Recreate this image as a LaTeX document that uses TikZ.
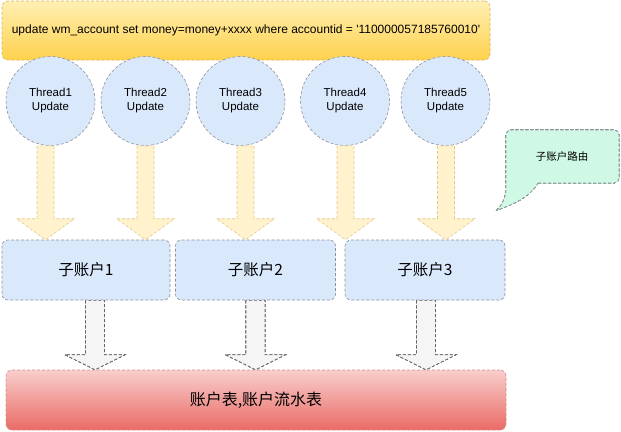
\documentclass[tikz,border=0pt]{standalone}
\usepackage{fontspec}
\setmainfont{Liberation Sans}
\newfontfamily\cjk{Noto Sans CJK SC}
\usetikzlibrary{calc}
\definecolor{sqlTop}{HTML}{FFEFB3}
\definecolor{sqlBot}{HTML}{FFD24D}
\definecolor{sqlLine}{HTML}{D6B656}
\definecolor{blueFill}{HTML}{DAE8FC}
\definecolor{boxLine}{HTML}{8C9099}
\definecolor{yelFill}{HTML}{FFF2CC}
\definecolor{yelLine}{HTML}{E0C98A}
\definecolor{greyFill}{HTML}{F5F5F5}
\definecolor{greyLine}{HTML}{666666}
\definecolor{dbTop}{HTML}{F8CECC}
\definecolor{dbBot}{HTML}{EA6B66}
\definecolor{dbLine}{HTML}{D98C89}
\definecolor{noteFill}{HTML}{CFF9E5}
\tikzset{
  dashln/.style={line width=0.6pt,dash pattern=on 3pt off 2pt},
  sqlbox/.style={dashln,draw=sqlLine,top color=sqlTop,bottom color=sqlBot,rounded corners=6pt,
    minimum width=488pt,minimum height=59pt,font=\fontsize{12}{14}\selectfont},
  thread/.style={dashln,circle,draw=boxLine,fill=blueFill,minimum size=89pt,inner sep=0pt,
    align=center,font=\fontsize{11.5}{14}\selectfont},
  subacc/.style={dashln,draw=boxLine,fill=blueFill,rounded corners=6pt,minimum height=60pt,
    font=\cjk\fontsize{15.5}{18}\selectfont},
  dbbox/.style={dashln,draw=dbLine,top color=dbTop,bottom color=dbBot,rounded corners=6pt,
    minimum width=500pt,minimum height=60pt,font=\cjk\fontsize{16}{18}\selectfont},
  yarrow/.style={dashln,draw=yelLine,fill=yelFill},
  garrow/.style={dashln,draw=greyLine,fill=greyFill},
  note/.style={dashln,draw=boxLine,fill=noteFill}
}
\newcommand{\fatarrow}[6][]{%
  \draw[#1] let \p1=(#2), \p2=(#3) in
    (\x1-#4,\y1) -- (\x1-#4,\y2+#6) -- (\x1-#5,\y2+#6) -- (\x1,\y2)
    -- (\x1+#5,\y2+#6) -- (\x1+#4,\y2+#6) -- (\x1+#4,\y1) -- cycle;}
\begin{document}
\begin{tikzpicture}[x=1pt,y=-1pt]
  \useasboundingbox (0,0) rectangle (621,431);
  \node[sqlbox] (sql) at (246,30.5) {update wm\_account set money=money+xxxx where accountid = \textquotesingle110000057185760010\textquotesingle};
  \foreach \i/\x in {1/50.5,2/145.5,3/240.5,4/345,5/445.5}
    \node[thread] (t\i) at (\x,101) {Thread\i\\Update};
  \node[subacc,minimum width=168pt] (s1) at (86,270) {子账户1};
  \node[subacc,minimum width=160pt] (s2) at (255.5,270) {子账户2};
  \node[subacc,minimum width=160pt] (s3) at (425,270) {子账户3};
  \node[dbbox] (db) at (256,400) {账户表,账户流水表};
  \foreach \i/\s/\dx in {1/1/-5,2/1/0,3/2/5,4/2/0.5,5/3/0.5}
    \fatarrow[yarrow]{[xshift=\dx pt]t\i.south}{[xshift=\dx pt]t\i.south |- s\s.north}{8.5pt}{29pt}{21pt}
  \foreach \s/\dx in {1/9,2/0,3/1}
    \fatarrow[garrow]{[xshift=\dx pt]s\s.south}{[xshift=\dx pt]s\s.south |- db.north}{9.5pt}{30pt}{15pt}
  \draw[note,rounded corners=5pt] (538,183) -- (619,183) -- (619,130) -- (506,130) -- (506,178)
    [sharp corners] -- (506,183) .. controls (507,196) and (503,204) .. (497,210)
    .. controls (512,205) and (530,197) .. (538,183) -- cycle;
  \node[font=\cjk\fontsize{10.5}{13}\selectfont] (route) at (562,157) {子账户路由};
\end{tikzpicture}
\end{document}
